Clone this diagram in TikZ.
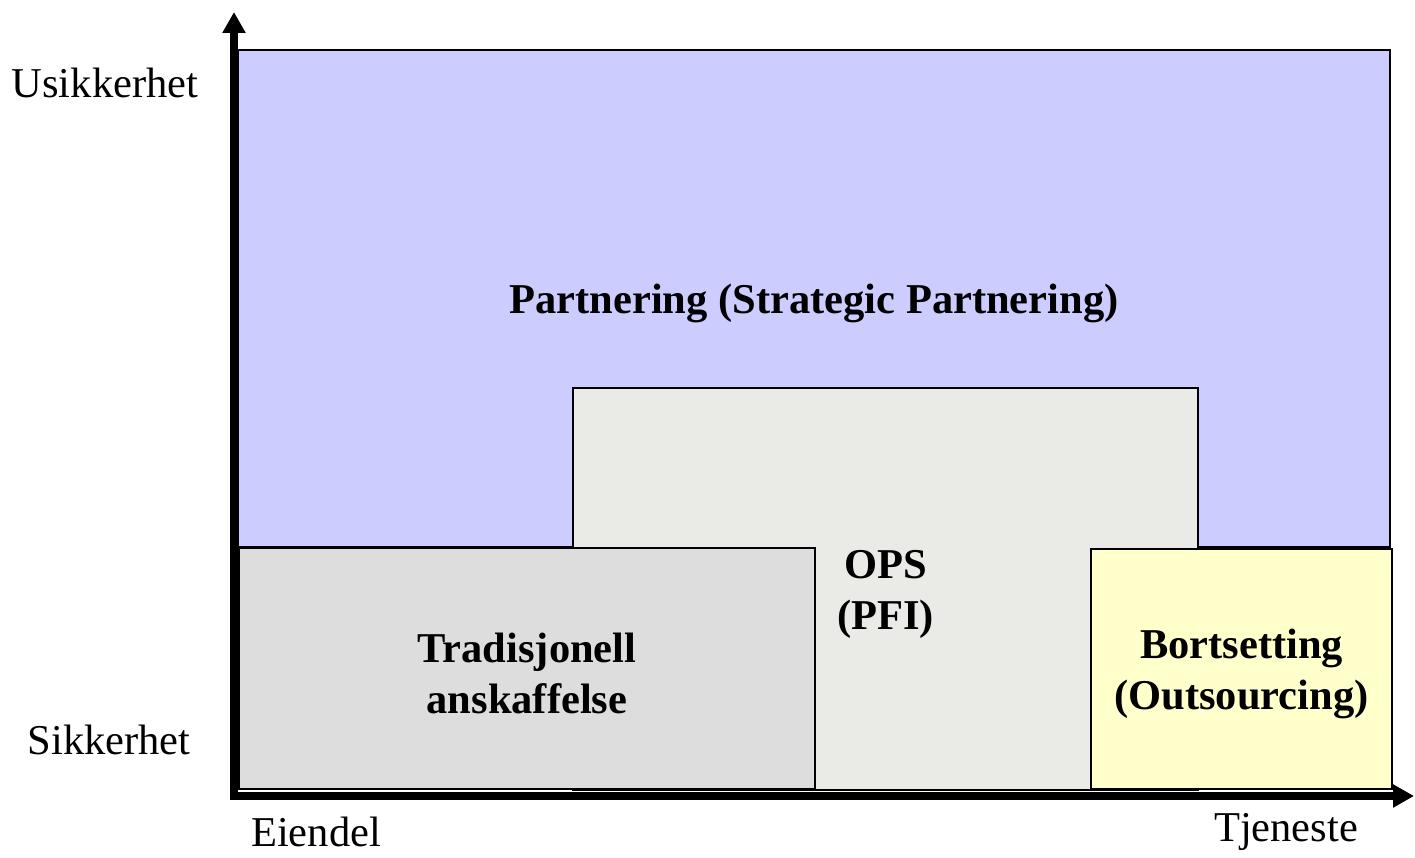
\documentclass[tikz,border=0pt]{standalone}
\usepackage{fontspec}
\setmainfont{Liberation Serif}
\usetikzlibrary{arrows.meta, positioning}
\definecolor{partnercolor}{RGB}{204,204,255}
\definecolor{opscolor}{RGB}{234,234,231}
\definecolor{tradcolor}{RGB}{221,221,221}
\definecolor{outcolor}{RGB}{255,255,204}

\begin{document}
\begin{tikzpicture}[
    x=1pt, y=-1pt,
    box/.style={draw, line width=1.5pt, inner sep=0pt},
    boxlabel/.style={font=\fontsize{42.5}{51}\selectfont\bfseries, align=center, inner sep=0pt, yshift=-5pt},
    axislabel/.style={font=\fontsize{42.5}{51}\selectfont},
    axis/.style={line width=7.5pt, line join=miter, {Triangle[length=21pt,width=22pt]}-{Triangle[length=21pt,width=22pt]}}
]
    \useasboundingbox (0,0) rectangle (1415,858);

    % Areas
    \node[box, fill=partnercolor, minimum width=1152pt, minimum height=497pt] (partner) at (814,298.5) {};
    \node[box, fill=opscolor, minimum width=625pt, minimum height=402pt] (ops) at (885.5,589) {};
    \node[box, fill=tradcolor, minimum width=576pt, minimum height=241pt] (trad) at (527,668.5) {};
    \node[box, fill=outcolor, minimum width=301pt, minimum height=240pt] (bort) at (1241.5,669) {};

    % Area labels
    \node[boxlabel] (partnertext) at (partner.center) {Partnering (Strategic Partnering)};
    \node[boxlabel] (opstext) at (ops.center) {OPS\\(PFI)};
    \node[boxlabel] (tradtext) at (trad.center) {Tradisjonell\\anskaffelse};
    \node[boxlabel] (borttext) at (bort.center) {Bortsetting\\(Outsourcing)};

    % Axes
    \coordinate (ytip) at (234,12);
    \coordinate (origin) at (234,796);
    \coordinate (xtip) at (1414,796);
    \draw[axis] (ytip) -- (origin) -- (xtip);

    % Axis labels
    \node[axislabel] (usikker) at (105,83) {Usikkerhet};
    \node[axislabel] (sikker) at (109,740) {Sikkerhet};
    \node[axislabel] (eiendel) at (316,832) {Eiendel};
    \node[axislabel] (tjeneste) at (1286,832) {Tjeneste};
\end{tikzpicture}
\end{document}
